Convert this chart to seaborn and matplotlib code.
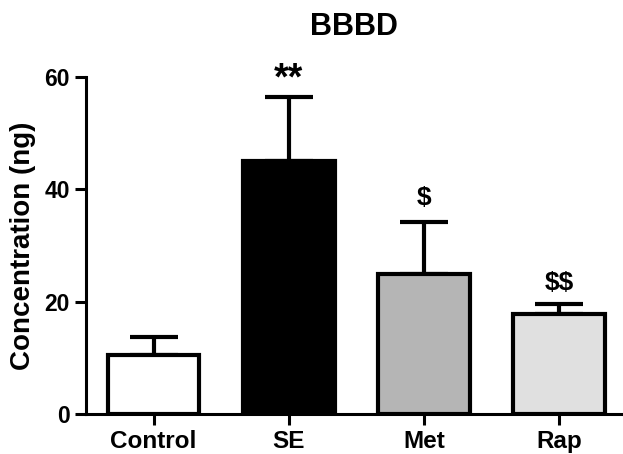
import numpy as np
import matplotlib
matplotlib.use("Agg")
import matplotlib.pyplot as plt
import seaborn as sns

groups = ["Control", "SE", "Met", "Rap"]
means = [10.5, 45.0, 25.0, 17.8]
errors = [3.2, 11.5, 9.2, 1.7]
bar_colors = ["#ffffff", "#000000", "#b5b5b5", "#e0e0e0"]
marks = ["", "**", "$", "$$"]
mark_y = [0, 59.6, 38.5, 23.3]
mark_size = [0, 27, 19, 19]

sns.set_style("ticks")
plt.rcParams["font.family"] = ["Liberation Sans", "DejaVu Sans"]
plt.rcParams["font.weight"] = "bold"
for key in ["text.color", "axes.labelcolor", "xtick.color", "ytick.color", "axes.edgecolor"]:
    plt.rcParams[key] = "black"

fig = plt.figure(figsize=(6.23, 4.54), dpi=100)
ax = fig.add_axes([0.138, 0.0881, 0.859, 0.7423])

x = np.arange(len(groups))
# only the upper half of the error bar, like GraphPad
ax.errorbar(x, means, yerr=[np.zeros(len(errors)), errors], fmt="none",
            ecolor="black", elinewidth=3, capsize=17.5, capthick=3, zorder=1)

sns.barplot(x=groups, y=means, hue=groups, palette=bar_colors, legend=False,
            edgecolor="black", linewidth=3, width=0.68, saturation=1, ax=ax, zorder=2)

for i, m in enumerate(marks):
    if m:
        ax.text(i, mark_y[i], m, ha="center", va="center", parse_math=False,
                fontsize=mark_size[i], fontweight="bold")

ax.set_xlim(-0.5, 3.46)
ax.set_ylim(0, 60)
ax.set_yticks([0, 20, 40, 60])
ax.set_ylabel("Concentration (ng)", fontsize=20, fontweight="bold", labelpad=6)
ax.set_xlabel("")
ax.set_title("BBBD", fontsize=22, fontweight="bold", pad=30)
ax.tick_params(axis="both", width=2.2, length=8, labelsize=16.5)
for lab in ax.get_xticklabels() + ax.get_yticklabels():
    lab.set_fontweight("bold")
ax.tick_params(axis="x", labelsize=17.5)
for s in ["top", "right"]:
    ax.spines[s].set_visible(False)
for s in ["left", "bottom"]:
    ax.spines[s].set_linewidth(2.2)

fig.savefig("out.png", dpi=100)
